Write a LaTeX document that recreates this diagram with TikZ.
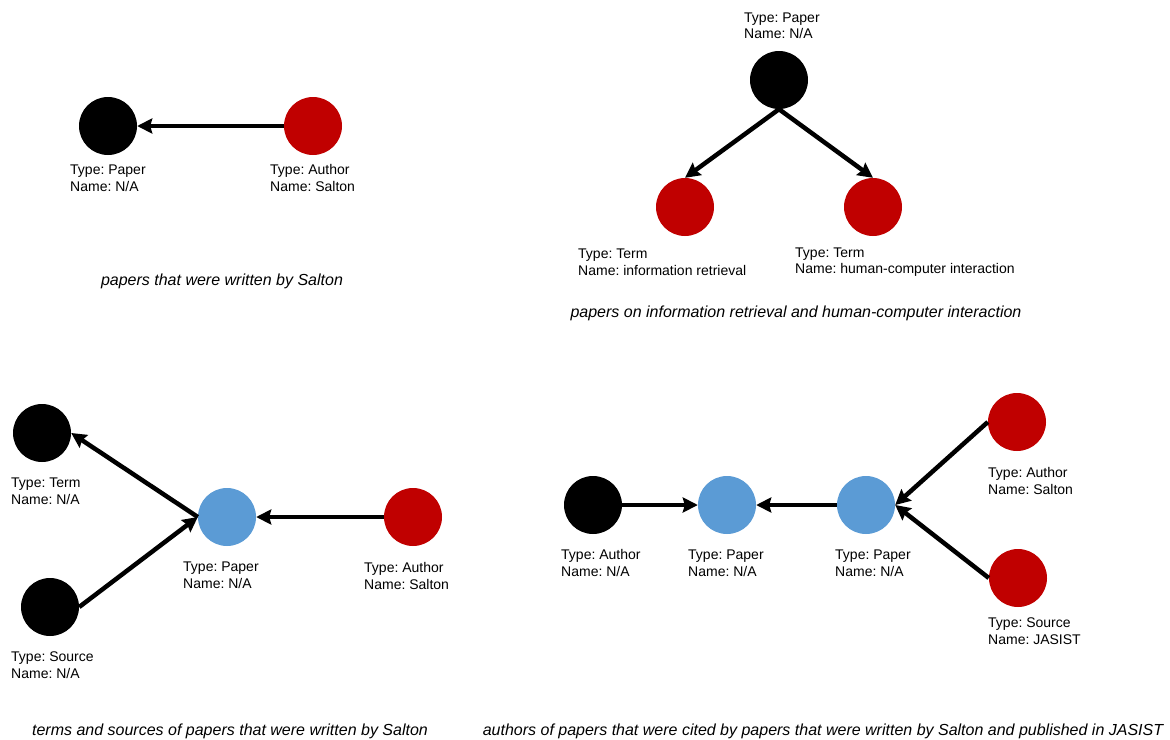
\documentclass[tikz,border=0pt]{standalone}
\usepackage{fontspec}
\setmainfont{Liberation Sans}
\usetikzlibrary{arrows.meta}
\definecolor{nodered}{HTML}{C00000}
\definecolor{nodeblue}{HTML}{5B9BD5}
\frenchspacing
\begin{document}
\begin{tikzpicture}[x=1pt,y=-1pt,
  vertex/.style={circle,minimum size=58pt,inner sep=0pt},
  blkfill/.style={fill=black},
  redfill/.style={fill=nodered},
  blufill/.style={fill=nodeblue},
  lbl/.style={anchor=west,align=left,inner sep=0pt,font=\fontsize{14}{16.5}\selectfont},
  capt/.style={inner sep=0pt,font=\fontsize{16}{18}\selectfont\itshape},
  link/.style={line width=4.5pt,-{Stealth[length=15pt,width=15pt,inset=2pt]}}]
\useasboundingbox (0,0) rectangle (1170,739);

% --- papers written by Salton
\node[vertex,blkfill] (a1) at (108,126) {};
\node[vertex,redfill] (a2) at (313,126) {};
\draw[link] (a2.west) -- (a1.east);
\node[lbl] (a1l) at (70,178) {Type: Paper\\Name: N/A};
\node[lbl] (a2l) at (270,178) {Type: Author\\Name: Salton};
\node[capt] (acap) at (222,281) {papers that were written by Salton};

% --- papers on two terms
\node[vertex,blkfill] (b0) at (779,80) {};
\node[vertex,redfill] (b1) at (685,207) {};
\node[vertex,redfill] (b2) at (873,207) {};
\draw[link] (b0.south) -- (b1.north);
\draw[link] (b0.south) -- (b2.north);
\node[lbl] (b0l) at (744,26) {Type: Paper\\Name: N/A};
\node[lbl] (b1l) at (578,262) {Type: Term\\Name: information retrieval};
\node[lbl] (b2l) at (795,262) {Type: Term\\Name: human-computer interaction};
\node[capt] (bcap) at (796,313) {papers on information retrieval and human-computer interaction};

% --- terms and sources
\node[vertex,blkfill] (c1) at (42,433) {};
\node[vertex,blkfill] (c2) at (50,607) {};
\node[vertex,blufill] (c0) at (227,517) {};
\node[vertex,redfill] (c3) at (413,517) {};
\draw[link] (c0.west) -- (c1.east);
\draw[link] (c2.east) -- (c0.west);
\draw[link] (c3.west) -- (c0.east);
\node[lbl] (c1l) at (11,491) {Type: Term\\Name: N/A};
\node[lbl] (c2l) at (11,665) {Type: Source\\Name: N/A};
\node[lbl] (c0l) at (183,575) {Type: Paper\\Name: N/A};
\node[lbl] (c3l) at (364,576) {Type: Author\\Name: Salton};
\node[capt] (ccap) at (230,731) {terms and sources of papers that were written by Salton};

% --- cited authors
\node[vertex,blkfill] (d1) at (593,505) {};
\node[vertex,blufill] (d2) at (727,505) {};
\node[vertex,blufill] (d3) at (866,505) {};
\node[vertex,redfill] (d4) at (1017,422) {};
\node[vertex,redfill] (d5) at (1018,578) {};
\draw[link] (d1.east) -- (d2.west);
\draw[link] (d3.west) -- (d2.east);
\draw[link] (d4.west) -- (d3.east);
\draw[link] (d5.west) -- (d3.east);
\node[lbl] (d1l) at (561,563) {Type: Author\\Name: N/A};
\node[lbl] (d2l) at (688,563) {Type: Paper\\Name: N/A};
\node[lbl] (d3l) at (835,563) {Type: Paper\\Name: N/A};
\node[lbl] (d4l) at (988,481) {Type: Author\\Name: Salton};
\node[lbl] (d5l) at (988,631) {Type: Source\\Name: JASIST};
\node[capt] (dcap) at (823,731) {authors of papers that were cited by papers that were written by Salton and published in JASIST};
\end{tikzpicture}
\end{document}
